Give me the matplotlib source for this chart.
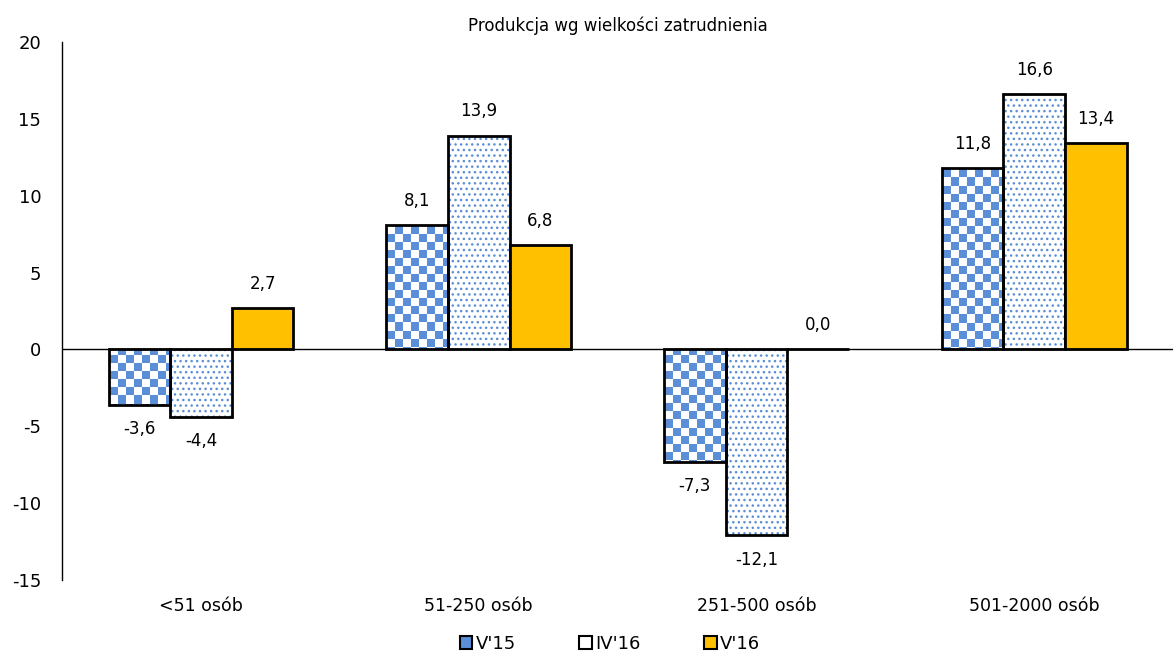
import numpy as np
import matplotlib.pyplot as plt
from matplotlib.patches import Patch

categories = ["<51 osób", "51-250 osób", "251-500 osób", "501-2000 osób"]
v15 = [-3.6, 8.1, -7.3, 11.8]
iv16 = [-4.4, 13.9, -12.1, 16.6]
v16 = [2.7, 6.8, 0.0, 13.4]

blue = "#5A8ED6"
gold = "#FFC000"

plt.rcParams['font.family'] = ['DejaVu Sans']
plt.rcParams['axes.unicode_minus'] = False
plt.rcParams['hatch.linewidth'] = 1.0

fig = plt.figure(figsize=(11.73, 6.66), dpi=100)
ax = fig.add_axes([0.053, 0.129, 0.947, 0.808])

x = np.arange(len(categories))
w = 0.222

# checker image used as the V'15 fill
ny, nx = 67, 140
checker = (np.add.outer(np.arange(ny), np.arange(nx)) % 2).astype(float)
cmap = plt.matplotlib.colors.ListedColormap(["white", blue])

b1 = ax.bar(x - w, v15, w, facecolor="none", edgecolor="black", linewidth=2, zorder=3)
for bar in b1:
    im = ax.imshow(checker, extent=(-0.5, 3.5, -15, 20), cmap=cmap, aspect="auto",
                   interpolation="nearest", zorder=2)
    im.set_clip_path(bar)

ax.bar(x, iv16, w, facecolor="white", edgecolor=blue, hatch="...", linewidth=0, zorder=2)
ax.bar(x, iv16, w, facecolor="none", edgecolor="black", linewidth=2, zorder=3)
ax.bar(x + w, v16, w, facecolor=gold, edgecolor="black", linewidth=2, zorder=3)

def fmt(v):
    return f"{v:.1f}".replace(".", ",")

for off, vals in [(-w, v15), (0, iv16), (w, v16)]:
    for xi, v in zip(x, vals):
        if v >= 0:
            ax.annotate(fmt(v), (xi + off, v), xytext=(0, 11), textcoords="offset points",
                        ha="center", va="bottom", fontsize=12)
        else:
            ax.annotate(fmt(v), (xi + off, v), xytext=(0, -11), textcoords="offset points",
                        ha="center", va="top", fontsize=12)

ax.axhline(0, color="black", linewidth=1, zorder=4)
ax.set_xlim(-0.5, 3.5)
ax.set_ylim(-15, 20)
ax.set_yticks(range(-15, 21, 5))
ax.set_xticks(x)
ax.set_xticklabels(categories)
ax.tick_params(axis="y", length=0, labelsize=13, pad=15)
ax.tick_params(axis="x", length=0, labelsize=12.5, pad=12)
for s in ["top", "right", "bottom"]:
    ax.spines[s].set_visible(False)
ax.spines["left"].set_linewidth(1)

ax.set_title("Produkcja wg wielkości zatrudnienia", fontsize=12, pad=8)

handles = [Patch(facecolor=blue, edgecolor="black", linewidth=1.5),
           Patch(facecolor="white", edgecolor="black", linewidth=1.5),
           Patch(facecolor=gold, edgecolor="black", linewidth=1.5)]
fig.legend(handles, ["V'15", "IV'16", "V'16"], loc="lower center", bbox_to_anchor=(0.52, -0.005),
           ncol=3, frameon=False, fontsize=13, handlelength=0.7, handleheight=0.7,
           handletextpad=0.2, columnspacing=3.5)

fig.savefig("out.png", dpi=100)
